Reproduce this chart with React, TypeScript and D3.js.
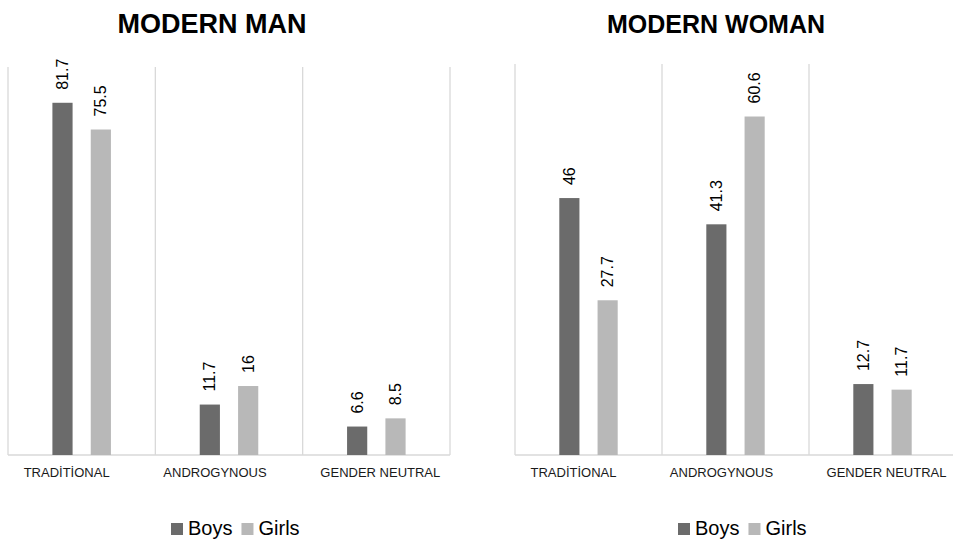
import { useEffect, useRef } from "react";
import { scaleLinear, scaleBand, select } from "d3";

const WIDTH = 953;
const HEIGHT = 541;

const CATEGORIES = ["TRADİTİONAL", "ANDROGYNOUS", "GENDER NEUTRAL"];
const SERIES = ["Boys", "Girls"];

const MAN_BOYS = [81.7, 11.7, 6.6];
const MAN_GIRLS = [75.5, 16, 8.5];
const WOMAN_BOYS = [46, 41.3, 12.7];
const WOMAN_GIRLS = [27.7, 60.6, 11.7];

const BOYS_COLOR = "#6b6b6b";
const GIRLS_COLOR = "#b8b8b8";
const GRID_COLOR = "#d9d9d9";
const FONT = "'Liberation Sans', Arial, sans-serif";

// category labels sit a little off the band centres in the original
const LABEL_NUDGE = [-15, -14, 4];

interface PanelSpec {
  title: string;
  titleX: number;
  titleSize: number;
  x0: number; // plot left
  x1: number; // plot right
  top: number; // plot top (y max)
  yMax: number;
  boys: number[];
  girls: number[];
  legendX: number;
}

const PANELS: PanelSpec[] = [
  {
    title: "MODERN MAN",
    titleX: 212,
    titleSize: 27,
    x0: 8,
    x1: 450,
    top: 67,
    yMax: 90,
    boys: MAN_BOYS,
    girls: MAN_GIRLS,
    legendX: 171,
  },
  {
    title: "MODERN WOMAN",
    titleX: 716,
    titleSize: 25,
    x0: 515,
    x1: 956,
    top: 64,
    yMax: 70,
    boys: WOMAN_BOYS,
    girls: WOMAN_GIRLS,
    legendX: 678,
  },
];

const BOTTOM = 455;

export default function App() {
  const svgRef = useRef<SVGSVGElement>(null);

  useEffect(() => {
    const svg = select(svgRef.current);
    svg.selectAll("*").remove();
    svg.attr("width", WIDTH).attr("height", HEIGHT);

    svg
      .append("rect")
      .attr("width", WIDTH)
      .attr("height", HEIGHT)
      .attr("fill", "#ffffff");

    PANELS.forEach((p) => {
      const g = svg.append("g");

      const x = scaleBand().domain(CATEGORIES).range([p.x0, p.x1]).padding(0);
      const xs = scaleBand()
        .domain(SERIES)
        .range([0, x.bandwidth()])
        .paddingInner(0.4737)
        .paddingOuter(1.158);
      const y = scaleLinear().domain([0, p.yMax]).range([BOTTOM, p.top]);

      // Title
      g.append("text")
        .attr("x", p.titleX)
        .attr("y", 33)
        .attr("text-anchor", "middle")
        .attr("font-family", FONT)
        .attr("font-weight", 700)
        .attr("font-size", p.titleSize)
        .attr("fill", "#000000")
        .text(p.title);

      // Vertical category separators
      const edges = [...CATEGORIES.map((c) => x(c) ?? 0), p.x1];
      edges.forEach((ex) => {
        g.append("line")
          .attr("x1", ex)
          .attr("x2", ex)
          .attr("y1", y(p.yMax))
          .attr("y2", BOTTOM)
          .attr("stroke", GRID_COLOR)
          .attr("stroke-width", 1.3);
      });

      // Baseline
      g.append("line")
        .attr("x1", p.x0)
        .attr("x2", p.x1)
        .attr("y1", BOTTOM)
        .attr("y2", BOTTOM)
        .attr("stroke", GRID_COLOR)
        .attr("stroke-width", 1.3);

      // Bars + rotated value labels
      CATEGORIES.forEach((cat, i) => {
        const values = [p.boys[i], p.girls[i]];
        SERIES.forEach((s, j) => {
          const v = values[j];
          const bx = (x(cat) ?? 0) + (xs(s) ?? 0);
          const bw = xs.bandwidth();
          g.append("rect")
            .attr("x", bx)
            .attr("y", y(v))
            .attr("width", bw)
            .attr("height", BOTTOM - y(v))
            .attr("fill", j === 0 ? BOYS_COLOR : GIRLS_COLOR);

          g.append("text")
            .attr(
              "transform",
              `translate(${bx + bw / 2},${y(v) - 13}) rotate(-90)`
            )
            .attr("text-anchor", "start")
            .attr("dy", "0.35em")
            .attr("font-family", FONT)
            .attr("font-size", 16)
            .attr("fill", "#000000")
            .text(String(v));
        });

        // Category label
        g.append("text")
          .attr("x", (x(cat) ?? 0) + x.bandwidth() / 2 + LABEL_NUDGE[i])
          .attr("y", 477)
          .attr("text-anchor", "middle")
          .attr("font-family", FONT)
          .attr("font-size", 13)
          .attr("fill", "#1a1a1a")
          .text(cat);
      });

      // Legend
      let lx = p.legendX;
      SERIES.forEach((s, j) => {
        g.append("rect")
          .attr("x", lx)
          .attr("y", 523)
          .attr("width", 12)
          .attr("height", 12)
          .attr("fill", j === 0 ? BOYS_COLOR : GIRLS_COLOR);
        const t = g
          .append("text")
          .attr("x", lx + 17)
          .attr("y", 535)
          .attr("font-family", FONT)
          .attr("font-size", 20)
          .attr("fill", "#000000")
          .text(s);
        const tw = (t.node() as SVGTextElement).getComputedTextLength();
        lx += 17 + tw + 9;
      });
    });
  }, []);

  return (
    <svg
      ref={svgRef}
      style={{ position: "absolute", left: 0, top: 0, display: "block" }}
    />
  );
}
